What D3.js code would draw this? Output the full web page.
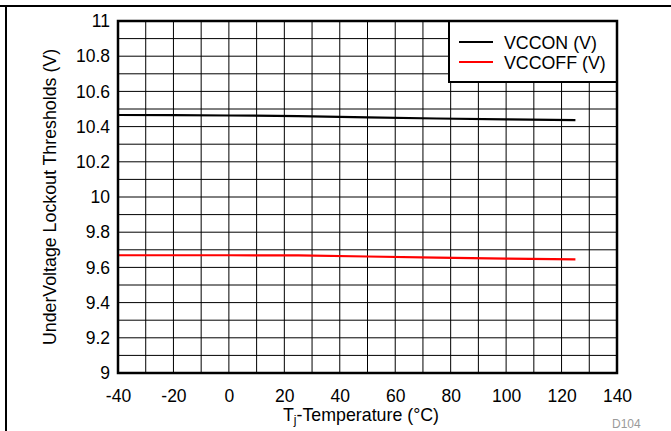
<!DOCTYPE html>
<html>
<head>
<meta charset="utf-8">
<script src="https://cdn.jsdelivr.net/npm/d3@7"></script>
<style>
  body { margin: 0; background: #fff; }
  text { font-family: "Liberation Sans", Arial, sans-serif; }
</style>
</head>
<body>
<div id="chart"></div>
<script>
'use strict';

// temperatures (°C) at which the thresholds were measured
const temperatures = [-40, -20, 0, 25, 50, 75, 100, 125];
// VCCON threshold (V)
const vccOn = [10.466, 10.465, 10.463, 10.460, 10.452, 10.446, 10.441, 10.437];
// VCCOFF threshold (V)
const vccOff = [9.669, 9.669, 9.669, 9.668, 9.662, 9.655, 9.650, 9.646];

const xTicks = [-40, -20, 0, 20, 40, 60, 80, 100, 120, 140];
const yTicks = [9, 9.2, 9.4, 9.6, 9.8, 10, 10.2, 10.4, 10.6, 10.8, 11];

const seriesList = [
    {name: "VCCON (V)", values: vccOn, color: "#000000"},
    {name: "VCCOFF (V)", values: vccOff, color: "#ff0000"}
];

const width = 671, height = 431;
const margin = {left: 118, top: 21, right: 54, bottom: 58};
const plotW = width - margin.left - margin.right;
const plotH = height - margin.top - margin.bottom;

const svg = d3.select("#chart").append("svg")
    .attr("width", width)
    .attr("height", height);

// рамка листа: сверху и слева
svg.append("line").attr("x1", 0).attr("x2", width).attr("y1", 6).attr("y2", 6)
    .attr("stroke", "#000").attr("stroke-width", 2);
svg.append("line").attr("x1", 6).attr("x2", 6).attr("y1", 6).attr("y2", height)
    .attr("stroke", "#000").attr("stroke-width", 2);

const x = d3.scaleLinear().domain([-40, 140]).range([0, plotW]);
const y = d3.scaleLinear().domain([9, 11]).range([plotH, 0]);

const g = svg.append("g").attr("transform", `translate(${margin.left},${margin.top})`);

// сетка
g.append("g")
    .selectAll("line")
    .data(d3.range(-30, 140, 10))
    .join("line")
    .attr("x1", d => x(d)).attr("x2", d => x(d))
    .attr("y1", 0).attr("y2", plotH)
    .attr("stroke", "#000").attr("stroke-width", 1);

g.append("g")
    .selectAll("line")
    .data(d3.range(1, 20).map(i => 9 + i * 0.1))
    .join("line")
    .attr("y1", d => y(d)).attr("y2", d => y(d))
    .attr("x1", 0).attr("x2", plotW)
    .attr("stroke", "#000").attr("stroke-width", 1);

// оси
const xAxis = g.append("g")
    .attr("transform", `translate(0,${plotH})`)
    .call(d3.axisBottom(x).tickValues(xTicks).tickSize(0).tickPadding(17).tickFormat(d => String(d)));
xAxis.select(".domain").remove();
xAxis.selectAll("text").style("font-size", "17.5px").attr("fill", "#000");

const yAxis = g.append("g")
    .call(d3.axisLeft(y).tickValues(yTicks).tickSize(0).tickPadding(8).tickFormat(d => String(+d.toFixed(1))));
yAxis.select(".domain").remove();
yAxis.selectAll("text").style("font-size", "17.5px").attr("fill", "#000");

// линии данных
const line = d3.line()
    .x((d, i) => x(temperatures[i]))
    .y(d => y(d));

seriesList.forEach(s => {
    g.append("path")
        .attr("d", line(s.values))
        .attr("fill", "none")
        .attr("stroke", s.color)
        .attr("stroke-width", 2.2);
});

// легенда
const lgX = 331, lgW = plotW - lgX, lgH = 61;
const lg = g.append("g").attr("transform", `translate(${lgX},0)`);
lg.append("rect").attr("x", 0).attr("y", 0).attr("width", lgW).attr("height", lgH)
    .attr("fill", "#fff").attr("stroke", "#000").attr("stroke-width", 2);
seriesList.forEach((s, i) => {
    const ly = 21 + i * 20;
    lg.append("line").attr("x1", 10).attr("x2", 44).attr("y1", ly).attr("y2", ly)
        .attr("stroke", s.color).attr("stroke-width", 2.2);
    lg.append("text").attr("x", 55).attr("y", ly + 6.5)
        .style("font-size", "17.8px").attr("fill", "#000").text(s.name);
});

// рамка графика
g.append("rect").attr("x", 0).attr("y", 0).attr("width", plotW).attr("height", plotH)
    .attr("fill", "none").attr("stroke", "#000").attr("stroke-width", 2.5);

// подписи осей
const xt = svg.append("text")
    .attr("x", 361)
    .attr("y", 421)
    .attr("text-anchor", "middle")
    .style("font-size", "17.8px");
xt.append("tspan").text("T");
xt.append("tspan").attr("dy", 3).style("font-size", "12px").text("j");
xt.append("tspan").attr("dy", -3).text("-Temperature (°C)");

svg.append("text")
    .attr("transform", `translate(56,${margin.top + plotH / 2}) rotate(-90)`)
    .attr("text-anchor", "middle")
    .style("font-size", "17.8px")
    .text("UnderVoltage Lockout Thresholds (V)");

svg.append("text")
    .attr("x", 612).attr("y", 428)
    .style("font-size", "12px")
    .attr("fill", "#9a9a9a")
    .text("D104");
</script>
</body>
</html>
